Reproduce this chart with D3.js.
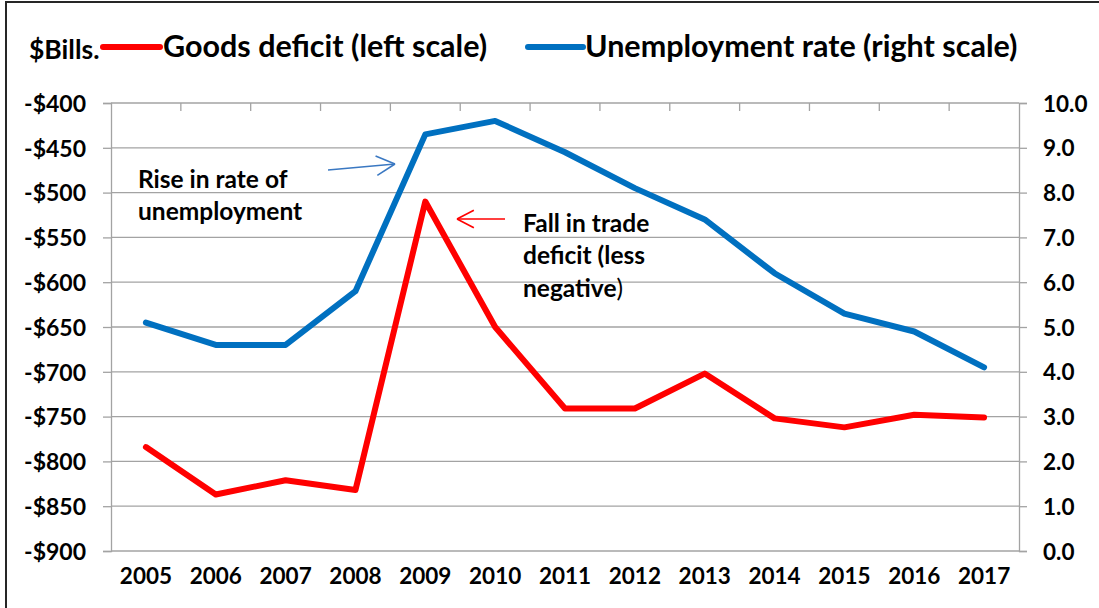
<!DOCTYPE html>
<html><head><meta charset="utf-8">
<script src="https://cdn.jsdelivr.net/npm/d3@7"></script>
<style>
body{margin:0;background:#fff}
svg{display:block}
text{font-family:Lato,"Open Sans",sans-serif;font-weight:700;fill:#000}
</style>
</head><body>
<svg id="c" width="1099" height="608"></svg>
<script>
// ---- data ----
const years = [2005,2006,2007,2008,2009,2010,2011,2012,2013,2014,2015,2016,2017];
const goodsDeficit = [-784,-837,-821,-832,-510,-650,-741,-741,-702,-752,-762,-748,-751];
const unemploymentRate = [5.1,4.6,4.6,5.8,9.3,9.6,8.9,8.1,7.4,6.2,5.3,4.9,4.1];
const leftTicks = [-400,-450,-500,-550,-600,-650,-700,-750,-800,-850,-900];
const rightTicks = [0,1,2,3,4,5,6,7,8,9,10];
const seriesNames = ["Goods deficit (left scale)","Unemployment rate (right scale)"];
const unitLabel = "$Bills.";

const W = 1099, H = 608;
const m = {left:111, right:1019, top:103, bottom:551};
const RED = "#ff0000", BLUE = "#0070c0", GRID = "#a3a3a3";

const svg = d3.select("#c");

// frame
svg.append("path").attr("d",`M6,${H} L6,2 L${W},2`).attr("fill","none").attr("stroke","#262626").attr("stroke-width",2);

const x = d3.scaleBand().domain(years).range([m.left,m.right]);
const xc = d => x(d) + x.bandwidth()/2;
const yL = d3.scaleLinear().domain([-900,-400]).range([m.bottom,m.top]);
const yR = d3.scaleLinear().domain([0,10]).range([m.bottom,m.top]);

// gridlines
svg.append("g").selectAll("line").data(leftTicks).join("line")
  .attr("x1",m.left).attr("x2",m.right)
  .attr("y1",d=>yL(d)).attr("y2",d=>yL(d))
  .attr("stroke",GRID).attr("stroke-width",1.3);

// top category tick marks (pointing down)
svg.append("g").selectAll("line").data(years.slice(1)).join("line")
  .attr("x1",d=>x(d)).attr("x2",d=>x(d))
  .attr("y1",m.top).attr("y2",m.top+8)
  .attr("stroke",GRID).attr("stroke-width",1.3);

// left axis
const gL = svg.append("g").attr("transform",`translate(${m.left},0)`)
  .call(d3.axisLeft(yL).tickValues(leftTicks).tickSize(8).tickPadding(17)
    .tickFormat(d => "-$" + Math.abs(d)));
gL.select(".domain").attr("stroke",GRID).attr("stroke-width",1.3);
gL.selectAll(".tick line").attr("stroke",GRID).attr("stroke-width",1.3);
gL.selectAll("text").style("font-size","23px").attr("dy","0.36em");

// right axis
const gR = svg.append("g").attr("transform",`translate(${m.right},0)`)
  .call(d3.axisRight(yR).tickValues(rightTicks).tickSize(8).tickPadding(16)
    .tickFormat(d3.format(".1f")));
gR.select(".domain").attr("stroke",GRID).attr("stroke-width",1.3);
gR.selectAll(".tick line").attr("stroke",GRID).attr("stroke-width",1.3);
gR.selectAll("text").style("font-size","22.5px").attr("dy","0.36em");

// bottom labels
const gB = svg.append("g").attr("transform",`translate(0,${m.bottom})`)
  .call(d3.axisBottom(x).tickSize(0).tickPadding(17));
gB.select(".domain").remove();
gB.selectAll("text").style("font-size","22.5px");

// lines
const lineL = d3.line().x((d,i)=>xc(years[i])).y(d=>yL(d));
const lineR = d3.line().x((d,i)=>xc(years[i])).y(d=>yR(d));
svg.append("path").datum(unemploymentRate).attr("d",lineR)
  .attr("fill","none").attr("stroke",BLUE).attr("stroke-width",6)
  .attr("stroke-linejoin","round").attr("stroke-linecap","round");
svg.append("path").datum(goodsDeficit).attr("d",lineL)
  .attr("fill","none").attr("stroke",RED).attr("stroke-width",6)
  .attr("stroke-linejoin","round").attr("stroke-linecap","round");

// legend
svg.append("text").attr("x",29).attr("y",59).style("font-size","26.5px").text(unitLabel);
const legend = [
  {name:seriesNames[0], color:RED, x1:103, x2:160, tx:163},
  {name:seriesNames[1], color:BLUE, x1:528, x2:583, tx:585}
];
legend.forEach(l=>{
  svg.append("line").attr("x1",l.x1).attr("x2",l.x2).attr("y1",47).attr("y2",47)
    .attr("stroke",l.color).attr("stroke-width",6).attr("stroke-linecap","round");
  svg.append("text").attr("x",l.tx).attr("y",57).style("font-size","30.5px").text(l.name);
});

// annotations
function arrow(x1,y1,x2,y2,color,head){
  const g = svg.append("g").attr("stroke",color).attr("stroke-width",1.6).attr("fill","none");
  g.append("line").attr("x1",x1).attr("y1",y1).attr("x2",x2).attr("y2",y2);
  const a = Math.atan2(y2-y1,x2-x1);
  [0.48,-0.48].forEach(s=>{
    g.append("line").attr("x1",x2).attr("y1",y2)
      .attr("x2",x2-head*Math.cos(a+s)).attr("y2",y2-head*Math.sin(a+s));
  });
}
const a1 = svg.append("text").style("font-size","24.5px");
a1.append("tspan").attr("x",138).attr("y",188).text("Rise in rate of");
a1.append("tspan").attr("x",138).attr("y",220).text("unemployment");
arrow(328,170,395,164,"#3a78c2",21);

const a2 = svg.append("text").style("font-size","24.5px");
a2.append("tspan").attr("x",523).attr("y",232).text("Fall in trade");
a2.append("tspan").attr("x",523).attr("y",264).text("deficit (less");
a2.append("tspan").attr("x",523).attr("y",297).text("negative");
a2.append("tspan").style("font-weight","400").text(")");
arrow(505,219,457,219,RED,19);
</script>
</body></html>
